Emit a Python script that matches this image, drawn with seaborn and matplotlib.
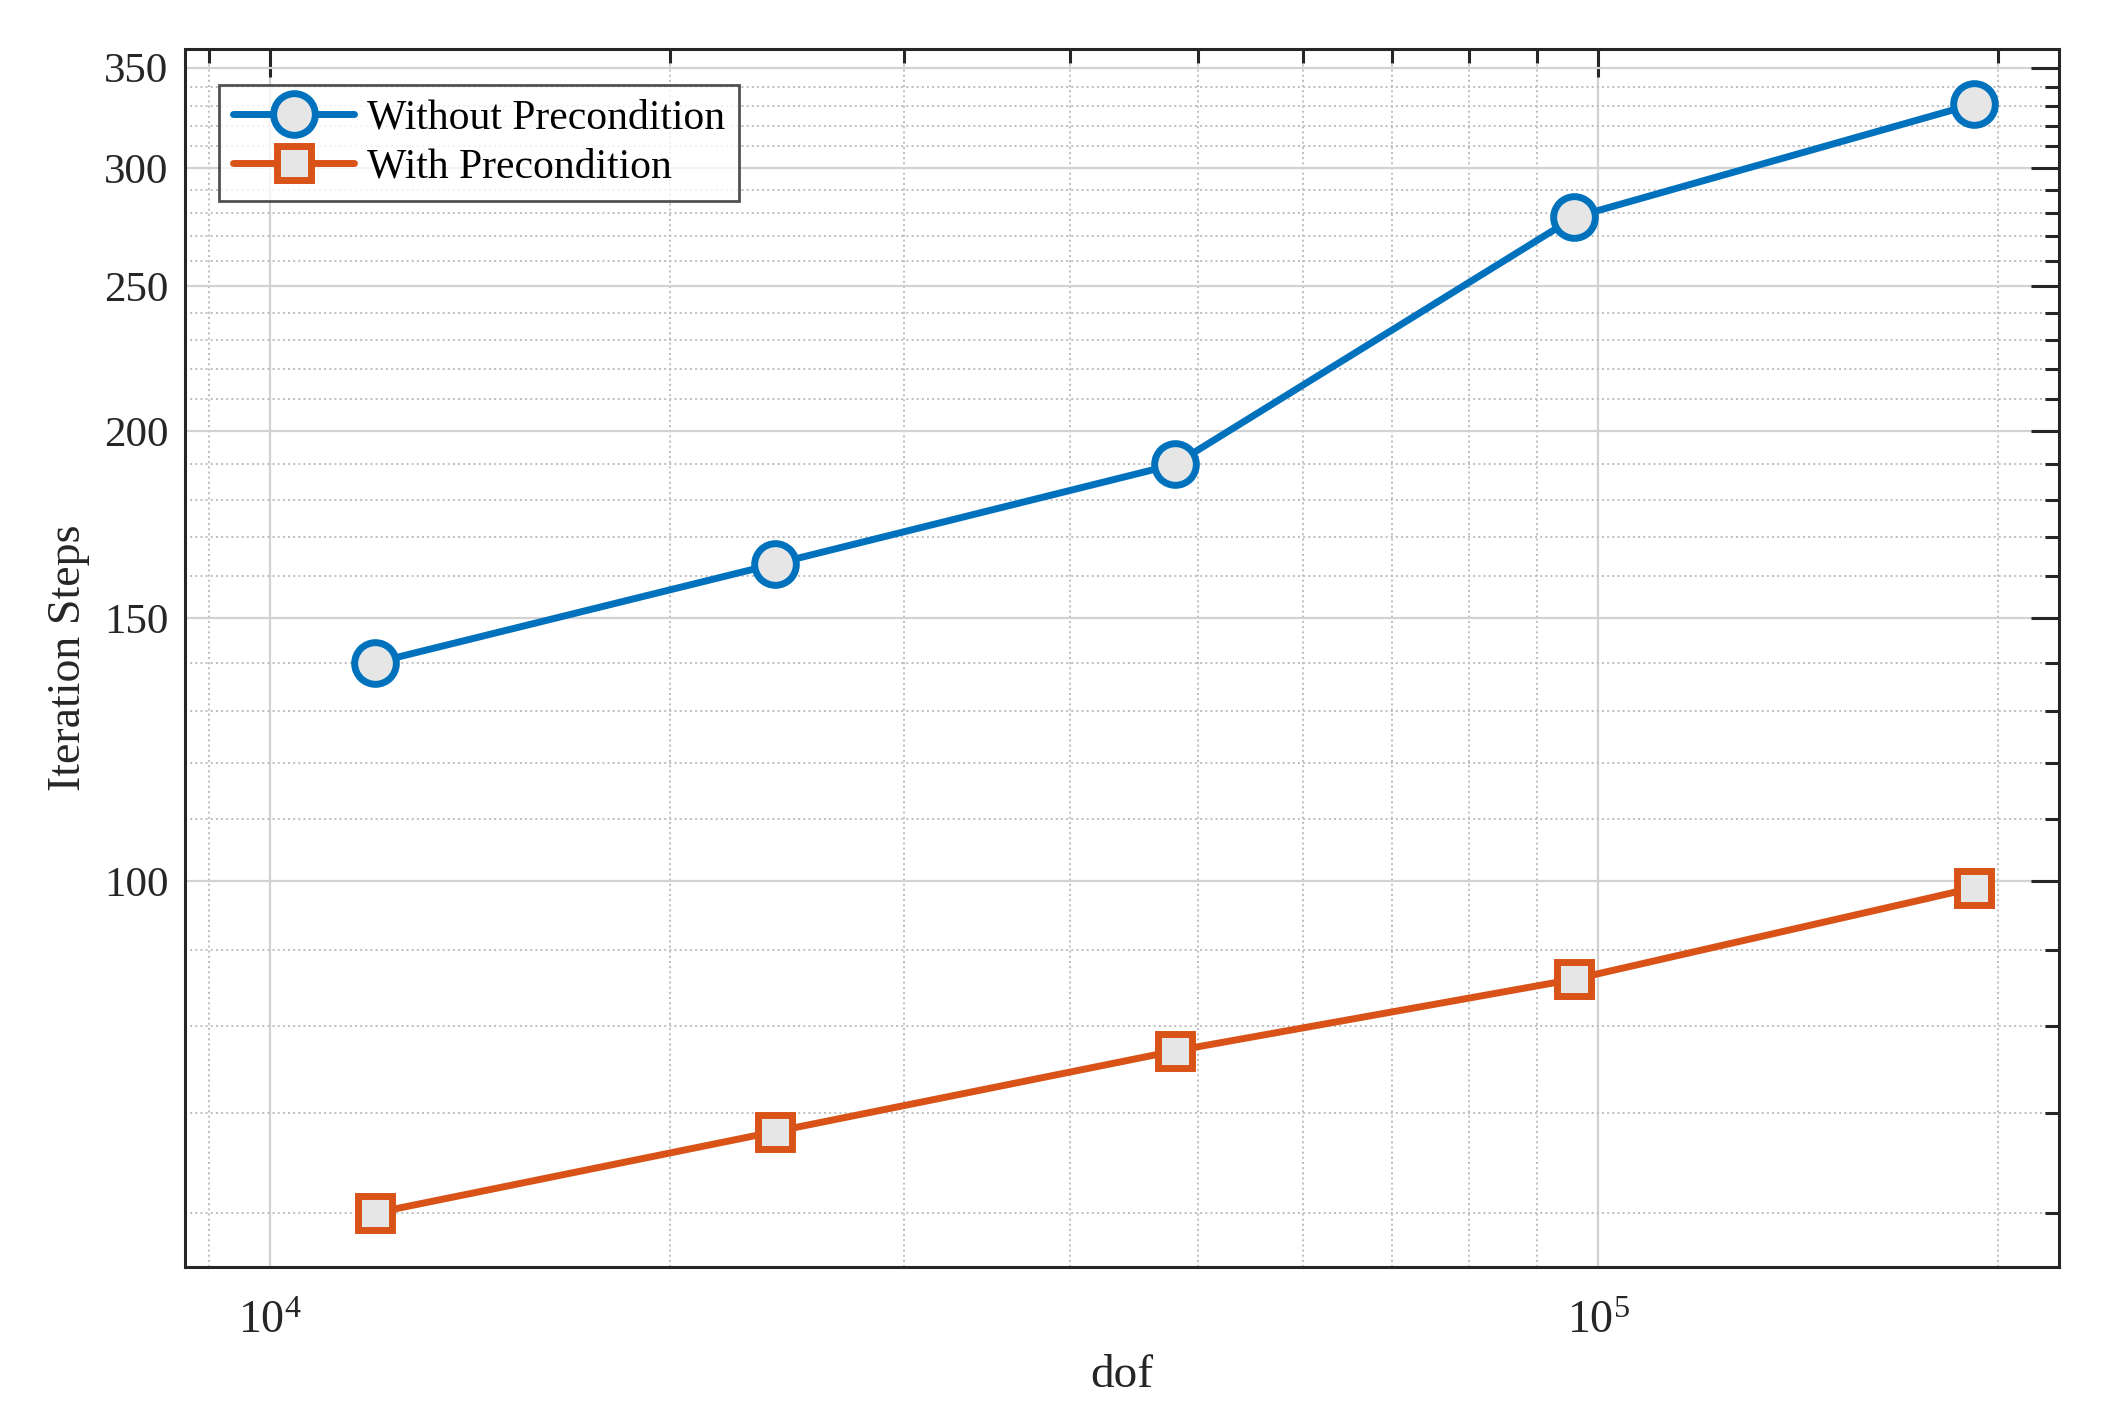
import matplotlib
matplotlib.use("Agg")
import matplotlib.pyplot as plt
import matplotlib.ticker as mticker
import seaborn as sns
import pandas as pd

# data
dof = [12000, 24000, 48000, 96000, 192000]
steps_without = [140, 163, 190, 278, 331]
steps_with = [60, 68, 77, 86, 99]
y_major = [100, 150, 200, 250, 300, 350]
y_minor = [60, 70, 80, 90, 110, 120, 130, 140, 160, 170, 180, 190,
           210, 220, 230, 240, 260, 270, 280, 290, 310, 320, 330, 340]

df = pd.DataFrame({"dof": dof, "without": steps_without, "with": steps_with})

sns.set_theme(style="white")
plt.rcParams["font.family"] = ["Liberation Serif", "DejaVu Serif"]
plt.rcParams["mathtext.fontset"] = "custom"
plt.rcParams["mathtext.rm"] = "Liberation Serif"
plt.rcParams["mathtext.it"] = "Liberation Serif:italic"

axis_col = "#262626"
blue = "#0072BD"
orange = "#D95319"
face = "#E6E6E6"

fig = plt.figure(figsize=(21.16, 14.11), dpi=100)
ax = fig.add_axes([0.0874, 0.102, 0.8857, 0.863])
ax.set_xscale("log")
ax.set_yscale("log")

sns.lineplot(data=df, x="dof", y="without", ax=ax, color=blue, linewidth=5,
             marker="o", markersize=30, markeredgewidth=5, markeredgecolor=blue,
             markerfacecolor=face, label="Without Precondition")
sns.lineplot(data=df, x="dof", y="with", ax=ax, color=orange, linewidth=5,
             marker="s", markersize=24, markeredgewidth=5, markeredgecolor=orange,
             markerfacecolor=face, label="With Precondition")

ax.set_xlim(8630, 222400)
ax.set_ylim(55.2, 360)

ax.yaxis.set_major_locator(mticker.FixedLocator(y_major))
ax.yaxis.set_major_formatter(mticker.FixedFormatter([str(v) for v in y_major]))
ax.yaxis.set_minor_locator(mticker.FixedLocator(y_minor))
ax.yaxis.set_minor_formatter(mticker.NullFormatter())
ax.xaxis.set_major_locator(mticker.LogLocator(base=10, numticks=10))
ax.xaxis.set_minor_locator(mticker.LogLocator(base=10, subs=range(2, 10), numticks=20))
ax.xaxis.set_minor_formatter(mticker.NullFormatter())

ax.tick_params(which="both", direction="in", top=True, right=True,
               colors=axis_col, labelcolor=axis_col, labelsize=31)
ax.tick_params(which="major", length=20, width=2.2)
ax.tick_params(which="minor", length=10, width=2.2)
ax.tick_params(axis="y", which="major", pad=12)
ax.tick_params(axis="x", which="major", pad=24, labelsize=33)

ax.grid(which="major", color="#d2d2d2", linestyle="-", linewidth=1.6)
ax.grid(which="minor", color="#bdbdbd", linestyle=":", linewidth=1.4)
ax.set_axisbelow(True)

for s in ax.spines.values():
    s.set_color(axis_col)
    s.set_linewidth(2.2)

ax.set_xlabel("dof", fontsize=34, color=axis_col, labelpad=8)
ax.set_ylabel("Iteration Steps", fontsize=33, color=axis_col, labelpad=10)

leg = ax.legend(loc="upper left", bbox_to_anchor=(0.018, 0.971), borderaxespad=0,
                fontsize=30, frameon=True, fancybox=False, handlelength=2.9,
                handletextpad=0.3, borderpad=0.35, labelspacing=0.25)
leg.get_frame().set_edgecolor(axis_col)
leg.get_frame().set_linewidth(2.0)
for t in leg.get_texts():
    t.set_color("black")

fig.savefig("out.png", dpi=100)
plt.close(fig)
